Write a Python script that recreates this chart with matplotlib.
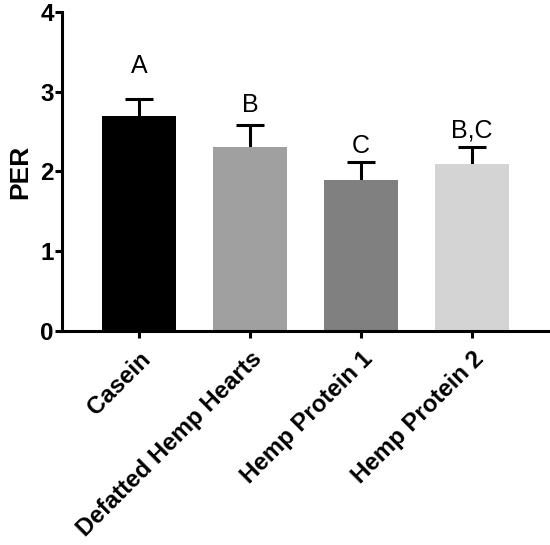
import numpy as np
import matplotlib
matplotlib.use('Agg')
import matplotlib.pyplot as plt

plt.rcParams['font.family'] = ['Liberation Sans', 'DejaVu Sans']

groups = ['Casein', 'Defatted Hemp Hearts', 'Hemp Protein 1', 'Hemp Protein 2']
per_mean = [2.70, 2.31, 1.89, 2.09]
per_err = [0.21, 0.27, 0.23, 0.21]
letters = ['A', 'B', 'C', 'B,C']
bar_colors = ['#000000', '#a0a0a0', '#808080', '#d4d4d4']

# gap between top of error bar and the significance letter (data units)
letter_gap = [0.26, 0.10, 0.05, 0.06]

fig = plt.figure(figsize=(5.5, 5.45), dpi=100)
ax = fig.add_axes([0.113, 0.393, 0.883, 0.585])

x = np.arange(len(groups))
ax.bar(x, per_mean, width=0.667, color=bar_colors, zorder=2)
eb = ax.errorbar(x, per_mean, yerr=[np.zeros(len(x)), per_err], fmt='none',
                 ecolor='black', elinewidth=2.2, capsize=10, capthick=2.2, zorder=1)
# only the upper cap is wanted
eb[1][0].set_visible(False)

for xi, m, e, lab, g in zip(x, per_mean, per_err, letters, letter_gap):
    ax.text(xi, m + e + g, lab, ha='center', va='bottom', fontsize=18)

ax.set_xlim(-0.69, 3.68)
ax.set_ylim(0, 4)
ax.set_yticks([0, 1, 2, 3, 4])
ax.set_xticks(x)
ax.set_xticklabels(groups, rotation=45, ha='right', rotation_mode='anchor',
                   fontsize=17.3, fontweight='bold')
for t in ax.get_yticklabels():
    t.set_fontsize(17.5)
    t.set_fontweight('bold')
ax.set_ylabel('PER', fontsize=19, fontweight='bold', labelpad=6)

for s in ['top', 'right']:
    ax.spines[s].set_visible(False)
for s in ['left', 'bottom']:
    ax.spines[s].set_linewidth(2.2)
ax.tick_params(width=2.2, length=5, pad=1)
ax.tick_params(axis='x', pad=7)

fig.savefig('out.png', dpi=100)
